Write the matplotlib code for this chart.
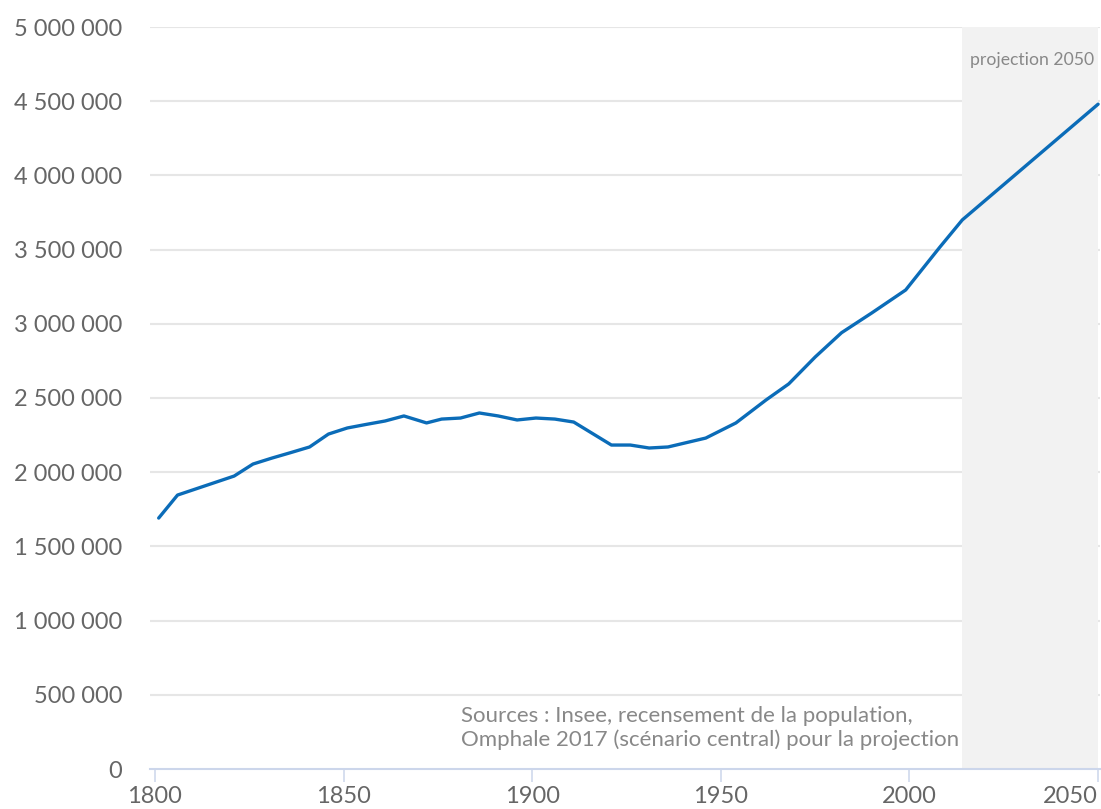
import matplotlib
matplotlib.use('Agg')
import matplotlib.pyplot as plt
from matplotlib.ticker import FuncFormatter

plt.rcParams['font.family'] = ['Lato', 'DejaVu Sans']

# population by census year, then the 2050 projection
years = [1801, 1806, 1821, 1826, 1831, 1836, 1841, 1846, 1851, 1856,
         1861, 1866, 1872, 1876, 1881, 1886, 1891, 1896, 1901, 1906,
         1911, 1921, 1926, 1931, 1936, 1946, 1954, 1962, 1968, 1975,
         1982, 1990, 1999, 2008, 2014, 2050]
population = [1691000, 1846000, 1974000, 2055000, 2095000, 2132000, 2170000, 2257000, 2298000, 2322000,
              2345000, 2379000, 2332000, 2358000, 2365000, 2399000, 2379000, 2352000, 2365000, 2358000,
              2338000, 2183000, 2183000, 2163000, 2170000, 2230000, 2332000, 2487000, 2595000, 2776000,
              2940000, 3073000, 3228000, 3515000, 3700000, 4480000]

proj_start = 2014
proj_end = 2050
y_ticks = list(range(0, 5000001, 500000))
x_ticks = [1800, 1850, 1900, 1950, 2000, 2050]

grey = '#666666'

fig = plt.figure(figsize=(11.01, 8.09), dpi=100)
ax = fig.add_axes([150 / 1101, 40 / 809, 950 / 1101, 742 / 809])

ax.set_xlim(1798.7, 2050.5)
ax.set_ylim(0, 5000000)

for y in y_ticks[1:]:
    ax.axhline(y, color='#e6e6e6', lw=1.5, zorder=1)
ax.axvspan(proj_start, proj_end, ymin=0, ymax=1, color='#f2f2f2', lw=0, zorder=2)

ax.plot(years, population, color='#0b6cb8', lw=2.4, solid_joinstyle='round',
        solid_capstyle='round', zorder=4, clip_on=False)

ax.set_yticks(y_ticks)
ax.yaxis.set_major_formatter(FuncFormatter(lambda v, p: f'{int(v):,}'.replace(',', ' ')))
ax.set_xticks(x_ticks)

for s in ['top', 'right', 'left']:
    ax.spines[s].set_visible(False)
ax.spines['bottom'].set_color('#ccd6eb')
ax.spines['bottom'].set_linewidth(1.5)
ax.spines['bottom'].set_zorder(5)

ax.tick_params(axis='y', length=0, pad=20, labelsize=17, labelcolor=grey)
ax.tick_params(axis='x', length=9, width=1.1, color='#ccd6eb', pad=3,
               labelsize=17, labelcolor=grey)
# keep the last year label inside the figure
ax.get_xticklabels()[-1].set_horizontalalignment('right')
ax.get_xticklabels()[-1].set_x(2050.5)

ax.text(2049, 4780000, 'projection 2050', ha='right', va='center',
        fontsize=12.7, color='#888888', zorder=6)
ax.text(0.327, 0.025, 'Sources : Insee, recensement de la population,\n'
        'Omphale 2017 (scénario central) pour la projection',
        transform=ax.transAxes, ha='left', va='bottom', fontsize=16,
        color='#888888', linespacing=1.22, zorder=6)

fig.savefig('out.png', dpi=100)
